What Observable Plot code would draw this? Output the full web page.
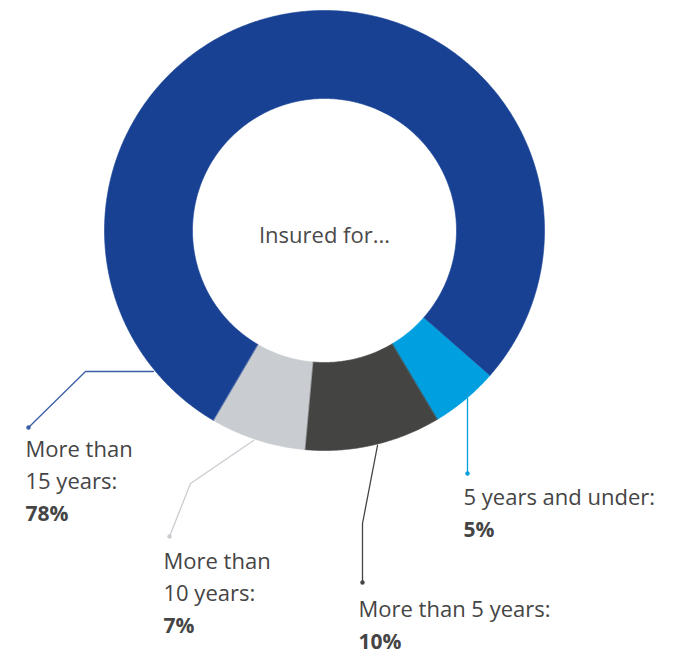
<!DOCTYPE html>
<html>
<head>
<meta charset="utf-8">
<script src="https://cdn.jsdelivr.net/npm/d3@7"></script>
<script src="https://cdn.jsdelivr.net/npm/@observablehq/plot@0.6"></script>
<style>
  html, body { margin: 0; padding: 0; background: #fff; }
  #chart svg { display: block; }
</style>
</head>
<body>
<div id="chart"></div>
<script>
// Data
const categories = ["5 years and under", "More than 5 years", "More than 10 years", "More than 15 years"];
const values = [5, 10, 7, 78];
const colors = ["#009fe0", "#444442", "#c9cdd1", "#184194"];
const lineColors = ["#009fe0", "#444442", "#c9cdd1", "#3a5fa8"];
const labelLines = [["5 years and under:"], ["More than 5 years:"], ["More than", "10 years:"], ["More than", "15 years:"]];
const valueLabels = ["5%", "10%", "7%", "78%"];
const centerLabel = "Insured for...";

// Layout (chart units = pixels relative to donut centre)
const W = 683, H = 652;
const cx = 324, cy = 230;
const rOuter = 220, rInner = 132;
const startDeg = 131.2;

// Leader lines: anchor on ring edge -> elbow -> dot (layout)
const leaders = [
  [[143, 168], [143, 243]],
  [[53, 215], [38, 293], [38, 352]],
  [[-71, 210], [-134, 253], [-155, 306]],
  [[-171, 141], [-239, 141], [-296, 197]]
];
const labelPos = [[139, 274], [34, 386], [-161, 338], [-299, 226]];
const lineGap = 32;

const pie = d3.pie().sort(null).value(d => d.value)
  .startAngle(startDeg * Math.PI / 180)
  .endAngle(startDeg * Math.PI / 180 + 2 * Math.PI);
const arcs = pie(categories.map((c, i) => ({cat: c, value: values[i]})));

// polygon points per slice (sampled arc geometry)
const pts = [];
arcs.forEach(a => {
  const n = Math.max(8, Math.ceil((a.endAngle - a.startAngle) / (Math.PI / 360)));
  for (let k = 0; k <= n; k++) {
    const t = a.startAngle + (a.endAngle - a.startAngle) * k / n;
    pts.push({cat: a.data.cat, x: rOuter * Math.sin(t), y: -rOuter * Math.cos(t)});
  }
  for (let k = n; k >= 0; k--) {
    const t = a.startAngle + (a.endAngle - a.startAngle) * k / n;
    pts.push({cat: a.data.cat, x: rInner * Math.sin(t), y: -rInner * Math.cos(t)});
  }
});

const leaderPts = [];
leaders.forEach((L, i) => L.forEach(p => leaderPts.push({cat: categories[i], x: p[0], y: p[1]})));
const dots = leaders.map((L, i) => ({cat: categories[i], x: L[L.length - 1][0], y: L[L.length - 1][1]}));

const textRows = [];
labelLines.forEach((lines, i) => {
  lines.forEach((t, j) => textRows.push({text: t, x: labelPos[i][0], y: labelPos[i][1] + j * lineGap, bold: false}));
  textRows.push({text: valueLabels[i], x: labelPos[i][0], y: labelPos[i][1] + lines.length * lineGap, bold: true});
});

const fontFam = "'Open Sans', 'Noto Sans', sans-serif";

const chart = Plot.plot({
  width: W,
  height: H,
  margin: 0,
  style: {fontFamily: fontFam, background: "#fff"},
  x: {type: "linear", domain: [-cx, W - cx], range: [0, W], axis: null},
  y: {type: "linear", domain: [-cy, H - cy], range: [0, H], axis: null},
  color: {type: "ordinal", domain: categories, range: colors},
  marks: [
    Plot.line(pts, {x: "x", y: "y", z: "cat", fill: "cat", stroke: "cat", strokeWidth: 0.6, curve: "linear-closed"}),
    Plot.line(leaderPts, {x: "x", y: "y", z: "cat", stroke: d => lineColors[categories.indexOf(d.cat)], strokeWidth: 1.3, curve: "linear"}),
    Plot.dot(dots, {x: "x", y: "y", r: 2.2, fill: d => lineColors[categories.indexOf(d.cat)], stroke: null}),
    Plot.text(textRows.filter(d => !d.bold), {x: "x", y: "y", text: "text", textAnchor: "start", lineAnchor: "bottom", fontSize: 22, fill: "#454545", fontWeight: 400}),
    Plot.text(textRows.filter(d => d.bold), {x: "x", y: "y", text: "text", textAnchor: "start", lineAnchor: "bottom", fontSize: 21, fill: "#454545", fontWeight: 700}),
    Plot.text([centerLabel], {x: [0], y: [12], text: d => d, textAnchor: "middle", lineAnchor: "bottom", fontSize: 22, fill: "#4a4a4a"})
  ]
});
document.getElementById("chart").appendChild(chart);
</script>
</body>
</html>
